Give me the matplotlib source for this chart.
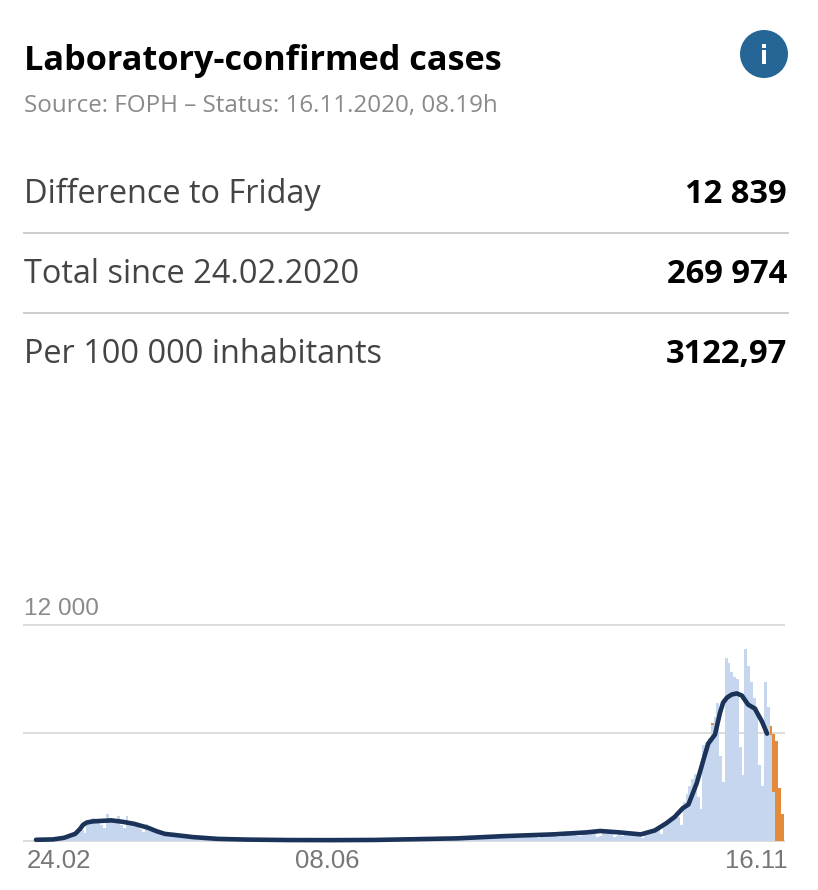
import matplotlib
matplotlib.use("Agg")
import matplotlib.pyplot as plt
from matplotlib.patches import Circle, Rectangle

W, H = 818, 890

title = "Laboratory-confirmed cases"
source = "Source: FOPH – Status: 16.11.2020, 08.19h"
row_labels = ["Difference to Friday", "Total since 24.02.2020", "Per 100 000 inhabitants"]
row_values = ["12 839", "269 974", "3122,97"]
tick_labels = ["24.02", "08.06", "16.11"]
y_ticks = [0, 6000, 12000]

# daily reported cases, one value per day from 24.02 to 16.11
cases = [
    1, 1, 2, 8, 10, 15, 20, 30, 50, 60, 90, 120, 150, 250,
    300, 480, 600, 390, 1040, 1120, 1230, 1150, 1150, 850, 700, 1450, 1230, 1150,
    1120, 1360, 890, 700, 1340, 1080, 1040, 930, 820, 630, 480, 930, 700, 630,
    630, 480, 410, 370, 370, 330, 300, 250, 200, 230, 180, 120, 100, 190,
    180, 150, 120, 100, 80, 80, 70, 60, 90, 80, 50, 40, 40, 60,
    50, 40, 30, 30, 20, 20, 20, 30, 25, 20, 15, 15, 10, 15,
    20, 25, 20, 15, 10, 10, 15, 20, 20, 15, 20, 10, 10, 20,
    25, 30, 20, 25, 10, 15, 25, 20, 25, 20, 20, 10, 10, 20,
    30, 30, 35, 30, 15, 20, 40, 50, 60, 60, 60, 30, 40, 70,
    90, 100, 110, 100, 60, 60, 110, 130, 120, 130, 110, 60, 70, 120,
    130, 140, 150, 120, 70, 80, 170, 160, 180, 220, 180, 90, 100, 220,
    260, 270, 250, 230, 110, 130, 290, 310, 300, 300, 260, 120, 140, 320,
    340, 330, 300, 280, 130, 150, 340, 370, 350, 380, 330, 150, 170, 400,
    440, 420, 450, 390, 190, 220, 480, 520, 500, 530, 480, 230, 260, 530,
    540, 550, 500, 450, 200, 240, 520, 500, 470, 420, 200, 230, 400, 250,
    430, 410, 380, 400, 330, 280, 150,
    335, 335, 410, 470, 560, 650, 335, 740, 930, 1020, 1210, 1400, 1300, 840, 2140,
    2600, 3020, 3450, 3720, 2420, 1770, 5300, 5490, 5680, 6450, 6860, 7640, 4690,
    3260, 10180, 9860, 9410, 9080, 9020, 5210, 3630, 10640, 9690, 8800, 7960, 7460,
    4230, 3035, 8800, 7460, 5870, 2680, 0, 0, 0,
]
# part of the last bars still marked as incomplete
recent_days = [241, 262, 263, 264, 265, 266]
recent_cases = [100, 490, 3270, 5560, 2940, 1450]

# smoothed 7 day line
line_days = [-0.5, 5.5, 9.5, 13.5, 15.2, 16.3, 17.6, 19.5, 22.5, 26.5, 30.5, 34.5, 39.5, 42.5, 45.5, 49.5,
             55.5, 64.5, 75, 90, 105, 120, 134, 150, 166, 184, 196, 201, 208, 215.5,
             220.5, 224.5, 227.5, 230.5, 232.5, 235.5, 238.4, 239.6, 242, 243.8, 244.9, 246.3,
             248, 249.8, 251.6, 253.8, 256.2, 258.8, 260.6]
line_values = [40, 60, 150, 370, 640, 870, 1000, 1060, 1090, 1120, 1040, 930, 710, 520, 370, 300,
               190, 90, 50, 25, 20, 30, 70, 120, 240, 340, 450, 530, 450, 340,
               560, 950, 1300, 1800, 2000, 3200, 4780, 5400, 5900, 7120, 7680, 7960,
               8130, 8190, 8070, 7570, 7350, 6620, 5950]

plt.rcParams["font.family"] = ["Open Sans", "DejaVu Sans"]
fig = plt.figure(figsize=(W / 100, H / 100), dpi=100)

def px_axes(x0, y0, x1, y1):
    return fig.add_axes([x0 / W, 1 - y1 / H, (x1 - x0) / W, (y1 - y0) / H])

# chart, 2.8 px per day
ax = px_axes(24, 625, 784, 840.5)
ax.set_xlim((24 - 37.4) / 2.8, (784 - 37.4) / 2.8)
ax.set_ylim(0, 12000)
ax.bar(range(len(cases)), cases, width=1.0, color="#c5d6ee", linewidth=0, zorder=2)
ax.bar(recent_days, recent_cases, width=1.0, bottom=[cases[d] for d in recent_days],
       color="#e38b3a", linewidth=0, zorder=2)
ax.plot(line_days, line_values, color="#1b3358", lw=3.3, zorder=3, clip_on=False,
        solid_joinstyle="round", solid_capstyle="round")
ax.set_yticks(y_ticks)
ax.set_xticks([])
ax.tick_params(left=False, labelleft=False)
ax.grid(axis="y", color="#dcdcdc", lw=1.4, zorder=1, clip_on=False)
ax.set_axisbelow(True)
for s in ax.spines.values():
    s.set_visible(False)

# overlay in pixel coordinates for the text block
ov = px_axes(0, 0, W, H)
ov.set_xlim(0, W)
ov.set_ylim(H, 0)
ov.axis("off")
ov.patch.set_alpha(0)

ov.text(24, 70, title, fontsize=24.7, fontweight="bold", color="black", va="baseline")
ov.text(24, 112, source, fontsize=17.35, color="#8a8a8a", va="baseline")

ov.add_patch(Circle((764, 54), 24, color="#266697", lw=0))
ov.add_patch(Rectangle((762, 44), 4, 4, color="white", lw=0))
ov.add_patch(Rectangle((762, 50), 4, 14, color="white", lw=0))

for i in range(3):
    y = 203 + 80 * i
    ov.text(24, y, row_labels[i], fontsize=23.4, color="#444444", va="baseline")
    ov.text(787, y, row_values[i], fontsize=23.6, fontweight="bold", color="black",
            ha="right", va="baseline")
    if i < 2:
        ov.plot([24, 788], [y + 30, y + 30], color="#cccccc", lw=1.4)

ov.text(24, 615, "12 000", fontsize=17.6, color="#8a8a8a", va="baseline", family="Liberation Sans")
for x, lab in zip([59, 327, 756], tick_labels):
    ov.text(x, 868, lab, fontsize=18.5, color="#777777", ha="center", va="baseline",
            family="Liberation Sans")

fig.savefig("out.png", dpi=100)
